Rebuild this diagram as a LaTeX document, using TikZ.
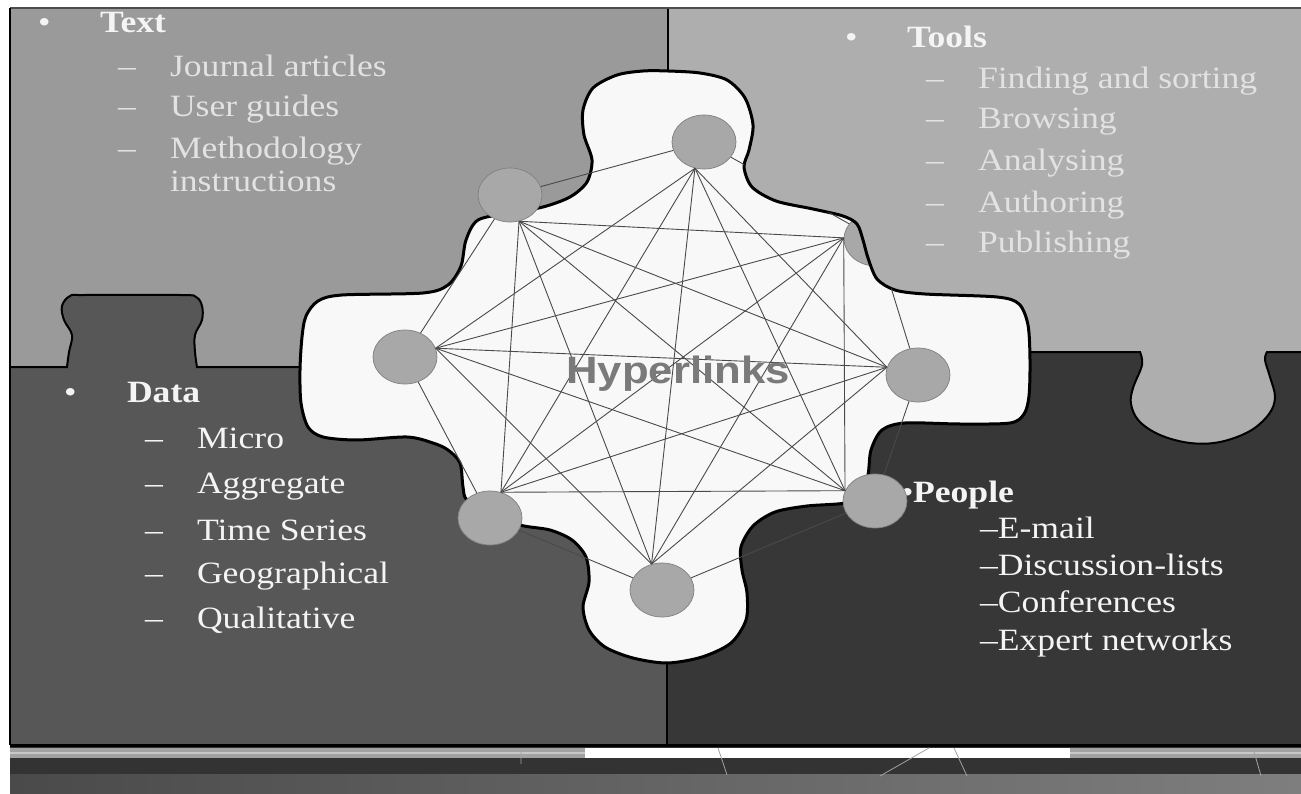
\documentclass[tikz,border=0pt]{standalone}
\usepackage{fontspec}
\setmainfont{Liberation Serif}[FakeStretch=1.15]
\newfontfamily\hypfont{Liberation Sans}[FakeStretch=1.15]
\usetikzlibrary{shapes.geometric}
\definecolor{qTL}{HTML}{9A9A9A}
\definecolor{qTR}{HTML}{AEAEAE}
\definecolor{qBL}{HTML}{575757}
\definecolor{qBR}{HTML}{373737}
\definecolor{blobc}{HTML}{F8F8F8}
\definecolor{nodefill}{HTML}{A8A8A8}
\definecolor{nodeedge}{HTML}{808080}
\definecolor{netc}{HTML}{4A4A4A}
\definecolor{txtA}{HTML}{E2E2E2}
\definecolor{txtB}{HTML}{F4F4F4}
\definecolor{hypc}{HTML}{7A7A7A}
\definecolor{bargray}{HTML}{A2A2A2}
\definecolor{barlight}{HTML}{C8C8C8}
\definecolor{stripdark}{HTML}{333333}
\definecolor{bandL}{HTML}{4A4A4A}
\definecolor{bandR}{HTML}{7E7E7E}
\tikzset{
  border/.style={draw=black, line width=2pt},
  outline/.style={draw=black, line width=3pt, line join=round},
  link/.style={draw=netc, line width=0.9pt},
  hub/.style={ellipse, draw=nodeedge, fill=nodefill, line width=0.7pt, minimum width=64pt, minimum height=54pt, inner sep=0pt},
  item/.style={anchor=base west, inner sep=0pt, outer sep=0pt, text=#1, font=\fontsize{31}{36}\selectfont},
  item/.default=txtA,
  head/.style={item=#1, font=\fontsize{31}{36}\selectfont\bfseries},
  head/.default=txtB,
}
\def\blobpath{plot[smooth cycle, tension=0.5] coordinates {(668,71) (700,73) (727,80) (745,98) (753,125) (749,150) (744,167) (752,187) (776,201) (813,209) (843,216) (857,224) (863,240) (868,258) (877,279) (895,290) (925,294) (997,297) (1019,304) (1028,325) (1030,360) (1029,396) (1024,414) (1010,423) (960,424) (905,423) (882,430) (871,450) (868,475) (861,494) (845,503) (807,506) (775,512) (753,526) (741,547) (742,570) (747,593) (746,620) (731,643) (702,657) (667,663) (633,658) (605,647) (589,630) (583,607) (589,582) (586,557) (572,540) (550,530) (520,525) (490,512) (467,500) (463,487) (460,463) (448,450) (433,443) (407,437) (357,440) (323,437) (308,427) (301,403) (300,370) (302,337) (306,316) (318,301) (342,295) (423,293) (448,285) (461,266) (466,240) (478,220) (510,213) (543,207) (570,197) (587,182) (592,160) (584,135) (583,110) (593,88) (617,75) (643,71)}}
\begin{document}
\begin{tikzpicture}[x=1pt,y=-1pt]
\useasboundingbox (0,0) rectangle (1301,794);
\fill[white] (0,0) rectangle (1301,794);
% bottom strip
\fill[stripdark] (10,745) rectangle (1301,774);
\shade[left color=bandL, right color=bandR] (10,774) rectangle (1301,794);
\fill[bargray] (10,748) rectangle (585,758);
\fill[white] (585,748) rectangle (1070,758);
\fill[bargray] (1070,748) rectangle (1301,758);
\draw[barlight, line width=1.5pt] (10,753) -- (585,753) (1070,753) -- (1301,753);
\draw[bargray, line width=0.8pt] (521,748) -- (521,764) (718,748) -- (727,775) (929,748) -- (880,776) (954,748) -- (967,776) (1253,748) -- (1261,776);
% quadrants
\fill[qTL] (10,8) rectangle (668,368);
\fill[qTR] (668,8) rectangle (1301,353);
\fill[qBR] (667,352) rectangle (1301,745);
\fill[qBL] (10,367) rectangle (667,745);
\fill[qTR] (1138,349) -- plot[smooth, tension=0.6] coordinates {(1140,352) (1142,365) (1133,388) (1131,404) (1139,421) (1160,435) (1190,443) (1220,442) (1250,431) (1269,414) (1275,397) (1270,377) (1265,360) (1267,352)} -- (1269,349) -- cycle;
\fill[qBL] (65,369) -- plot[smooth, tension=0.6] coordinates {(67,367) (69,352) (72,335) (64,320) (62,306) (70,296) (85,295) (180,295) (196,297) (202,306) (202,320) (195,335) (195,352) (197,367)} -- (199,369) -- cycle;
\draw[border] (1000,352) -- plot[smooth, tension=0.6] coordinates {(1140,352) (1142,365) (1133,388) (1131,404) (1139,421) (1160,435) (1190,443) (1220,442) (1250,431) (1269,414) (1275,397) (1270,377) (1265,360) (1267,352)} -- (1301,352);
\draw[border] (10,367) -- plot[smooth, tension=0.6] coordinates {(67,367) (69,352) (72,335) (64,320) (62,306) (70,296) (85,295) (180,295) (196,297) (202,306) (202,320) (195,335) (195,352) (197,367)} -- (320,367);
\draw[border] (668,8) -- (668,80);
\draw[border] (667,650) -- (667,745);
\draw[draw=black!70, line width=1.2pt] (1301,8) -- (10,8);
\draw[border] (10,8) -- (10,745);
\draw[black, line width=3pt] (10,745) -- (1301,745);
% texts
\node[item=txtB] (tbul) at (38,33) {•};
\node[head] (thead) at (100,33) {Text};
\node[item] (td1) at (118,77) {–};
\node[item] (ti1) at (170,77) {Journal articles};
\node[item] (td2) at (118,117) {–};
\node[item] (ti2) at (170,117) {User guides};
\node[item] (td3) at (118,159) {–};
\node[item] (ti3) at (170,159) {Methodology};
\node[item] (ti3b) at (170,192) {instructions};
\node[item=txtB] (obul) at (845,48) {•};
\node[head] (ohead) at (907,48) {Tools};
\node[item] (od1) at (926,89) {–};
\node[item] (oi1) at (978,89) {Finding and sorting};
\node[item] (od2) at (926,129) {–};
\node[item] (oi2) at (978,129) {Browsing};
\node[item] (od3) at (926,171) {–};
\node[item] (oi3) at (978,171) {Analysing};
\node[item] (od4) at (926,213) {–};
\node[item] (oi4) at (978,213) {Authoring};
\node[item] (od5) at (926,253) {–};
\node[item] (oi5) at (978,253) {Publishing};
\node[item=txtB] (dbul) at (64,402) {•};
\node[head] (dhead) at (127,402) {Data};
\node[item=txtB] (dd1) at (145,448) {–};
\node[item=txtB] (di1) at (197,448) {Micro};
\node[item=txtB] (dd2) at (145,493) {–};
\node[item=txtB] (di2) at (197,493) {Aggregate};
\node[item=txtB] (dd3) at (145,540) {–};
\node[item=txtB] (di3) at (197,540) {Time Series};
\node[item=txtB] (dd4) at (145,583) {–};
\node[item=txtB] (di4) at (197,583) {Geographical};
\node[item=txtB] (dd5) at (145,628) {–};
\node[item=txtB] (di5) at (197,628) {Qualitative};
\node[item=txtB] (pbul) at (901,502) {•};
\node[head] (phead) at (913,502) {People};
\node[item=txtB] (pi1) at (980,538) {–E-mail};
\node[item=txtB] (pi2) at (980,575) {–Discussion-lists};
\node[item=txtB] (pi3) at (980,612) {–Conferences};
\node[item=txtB] (pi4) at (980,650) {–Expert networks};
% blob
\fill[blobc] \blobpath;
\begin{scope}
  \clip \blobpath;
  \node[hub] (nTR) at (876,239) {};
\end{scope}
\draw[outline] \blobpath;
% hubs
\node[hub] (nT) at (704,142) {};
\node[hub] (nTL) at (510,195) {};
\node[hub] (nL) at (405,357) {};
\node[hub] (nBL) at (490,518) {};
\node[hub] (nB) at (662,590) {};
\node[hub] (nP) at (875,501) {};
\node[hub] (nR) at (918,375) {};
% ring links
\draw[link] (nT) -- (nTL);
\draw[link] (nTL) -- (nL);
\draw[link] (nL) -- (nBL);
\draw[link] (nBL) -- (nB);
\draw[link] (nB) -- (nP);
\draw[link] (nP) -- (nR);
% chords
\draw[link] (nT.251) -- (nL.16);
\draw[link] (nT.251) -- (nBL.67);
\draw[link] (nT.251) -- (nB.112);
\draw[link] (nT.251) -- (nP.161);
\draw[link] (nT.251) -- (nR.166);
\draw[link] (nR.166) -- (nTL.289);
\draw[link] (nR.166) -- (nL.16);
\draw[link] (nR.166) -- (nBL.67);
\draw[link] (nR.166) -- (nB.112);
\draw[link] (nP.161) -- (nTL.289);
\draw[link] (nP.161) -- (nL.16);
\draw[link] (nP.161) -- (nBL.67);
\draw[link] (nB.112) -- (nTL.289);
\draw[link] (nB.112) -- (nL.16);
\draw[link] (nBL.67) -- (nTL.289);
\begin{scope}
  \clip \blobpath;
  \draw[link] (nT) -- (nTR);
  \draw[link] (nTR) -- (nR);
  \draw[link] (nTR.178) -- (nL.16);
  \draw[link] (nTR.178) -- (nBL.67);
  \draw[link] (nTR.178) -- (nB.112);
  \draw[link] (nTR.178) -- (nP.161);
  \draw[link] (nTR.178) -- (nTL.289);
\end{scope}
\node[anchor=base, inner sep=0pt, text=hypc, font=\hypfont\bfseries\fontsize{38}{44}\selectfont] (hyp) at (678,383) {Hyperlinks};
\end{tikzpicture}
\end{document}
